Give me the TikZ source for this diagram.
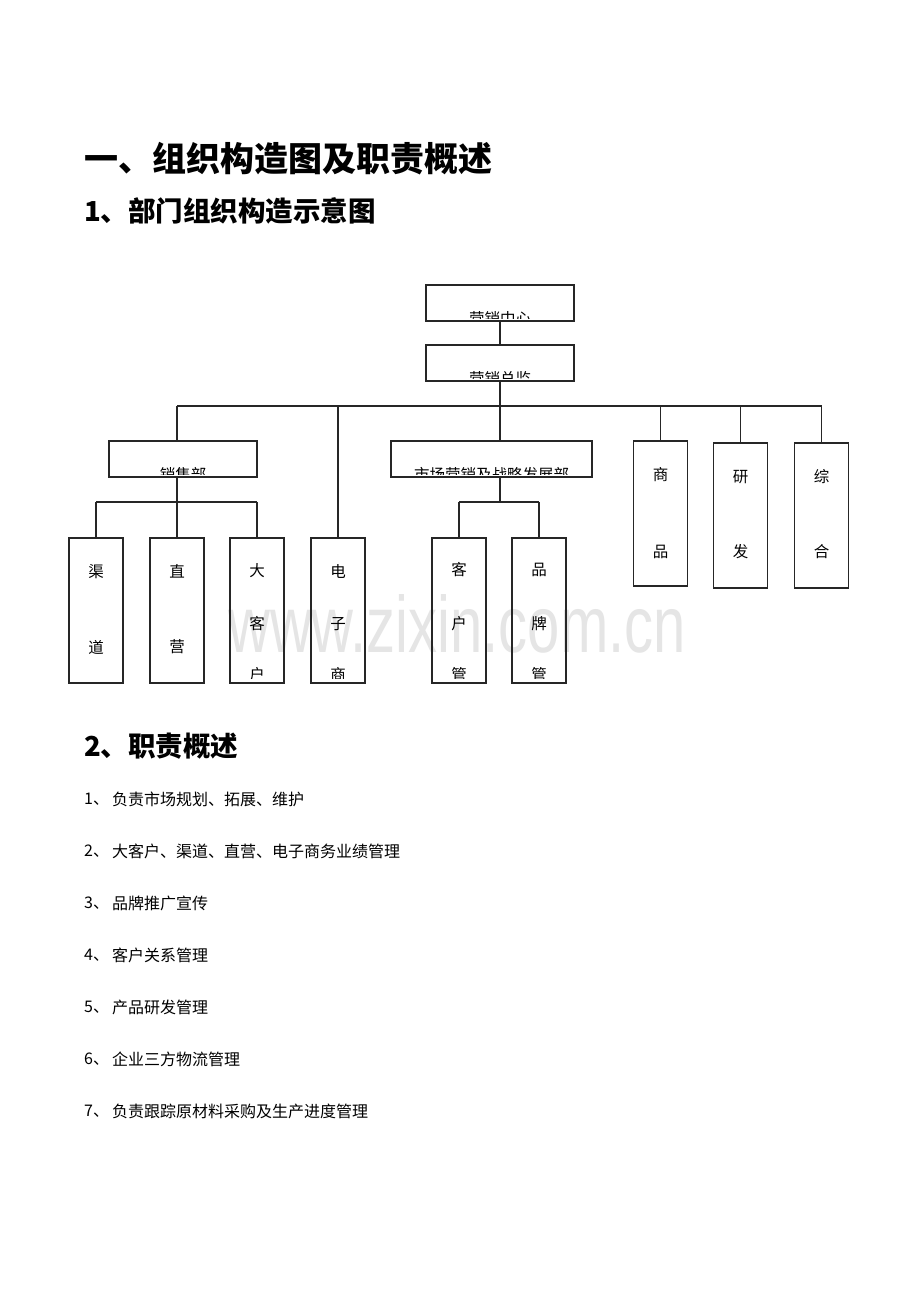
\documentclass[tikz,border=0pt]{standalone}
\usepackage{fontspec}
\newfontfamily\cjk{Noto Sans CJK SC}
\newfontfamily\wmfont{Liberation Sans}
\begin{document}
\begin{tikzpicture}[x=1pt,y=-1pt,
  box/.style={draw=black!85, line width=1.1pt, inner sep=0pt},
  conn/.style={draw=black!85, line width=1.1pt},
  bt/.style={font=\cjk\fontsize{15.5}{15.5}\selectfont, inner sep=0pt},
  lt/.style={font=\cjk\fontsize{16}{16}\selectfont, inner sep=0pt, anchor=west},
  h1/.style={font=\cjk\bfseries\fontsize{34}{34}\selectfont, inner sep=0pt, anchor=west},
  h2/.style={font=\cjk\bfseries\fontsize{27.5}{27.5}\selectfont, inner sep=0pt, anchor=west},
  wbox/.style={box, minimum width=148pt, minimum height=36pt},
  tbox/.style={box, minimum width=54pt, minimum height=145pt}]
\useasboundingbox (0,0) rectangle (920,1302);
\fill[white] (0,0) rectangle (920,1302);

% watermark
\node[font=\wmfont\fontsize{80}{80}\selectfont, text=black!10, xscale=0.725, anchor=base, inner sep=0pt] (wm) at (457,652) {www.zixin.com.cn};

% headings
\node[h1] (title) at (84,159) {一、组织构造图及职责概述};
\node[h2] (sub1) at (84,211) {1、部门组织构造示意图};
\node[h2] (sub2) at (84,746) {2、职责概述};

% top boxes
\node[wbox] (zx) at (500,303) {};
\node[wbox] (zj) at (500,363) {};
\node[box, minimum width=148pt, minimum height=36pt] (xs) at (183,459) {};
\node[box, minimum width=201pt, minimum height=36pt] (ms) at (491.5,459) {};

\begin{scope}\clip (zx.north west) rectangle ([yshift=3.5pt]zx.south east);
\node[bt] (zxt) at (500,318.5) {营销中心};\end{scope}
\begin{scope}\clip (zj.north west) rectangle ([yshift=3.5pt]zj.south east);
\node[bt] (zjt) at (500,378.5) {营销总监};\end{scope}
\begin{scope}\clip (xs.north west) rectangle ([yshift=3.5pt]xs.south east);
\node[bt] (xst) at (183,475) {销售部};\end{scope}
\begin{scope}\clip (ms.north west) rectangle ([yshift=3.5pt]ms.south east);
\node[bt] (mst) at (491.5,475) {市场营销及战略发展部};\end{scope}

% right tall boxes
\node[tbox] (sp) at (660.5,513.5) {};
\node[tbox] (yf) at (740.5,515.5) {};
\node[tbox] (zh) at (821.5,515.5) {};
\node[bt] (sp1) at (660.5,475) {商};
\node[bt] (sp2) at (660.5,552) {品};
\node[bt] (yf1) at (740.5,477) {研};
\node[bt] (yf2) at (740.5,552) {发};
\node[bt] (zh1) at (821.5,477) {综};
\node[bt] (zh2) at (821.5,552) {合};

% bottom tall boxes
\node[tbox] (qd) at (96,610.5) {};
\node[tbox] (zy) at (177,610.5) {};
\node[tbox] (dk) at (257,610.5) {};
\node[tbox] (ds) at (338,610.5) {};
\node[tbox] (kh) at (459,610.5) {};
\node[tbox] (pp) at (539,610.5) {};

\node[bt] (qd1) at (96,571.5) {渠};
\node[bt] (qd2) at (96,647) {道};
\node[bt] (zy1) at (177,571) {直};
\node[bt] (zy2) at (177,647) {营};
\node[bt] (dk1) at (257,571) {大};
\node[bt] (dk2) at (257,624) {客};
\begin{scope}\clip (dk.north west) rectangle ([yshift=5.5pt]dk.south east);
\node[bt] (dk3) at (257,675) {户};\end{scope}
\node[bt] (ds1) at (338,571) {电};
\node[bt] (ds2) at (338,624) {子};
\begin{scope}\clip (ds.north west) rectangle ([yshift=5.5pt]ds.south east);
\node[bt] (ds3) at (338,675) {商};\end{scope}
\node[bt] (kh1) at (459,570) {客};
\node[bt] (kh2) at (459,624) {户};
\begin{scope}\clip (kh.north west) rectangle ([yshift=5.5pt]kh.south east);
\node[bt] (kh3) at (459,675) {管};\end{scope}
\node[bt] (pp1) at (539,570) {品};
\node[bt] (pp2) at (539,624) {牌};
\begin{scope}\clip (pp.north west) rectangle ([yshift=5.5pt]pp.south east);
\node[bt] (pp3) at (539,675) {管};\end{scope}

% connectors
\coordinate (busL) at (177,406);
\coordinate (busR) at (821.5,406);
\coordinate (sbL) at (96,502);
\coordinate (sbR) at (257,502);
\coordinate (mbL) at (459,502);
\coordinate (mbR) at (539,502);
\draw[conn] (zx.south) -- (zj.north);
\draw[conn] (zj.south) -- (zj.south |- busL);
\draw[conn] (busL) -- (busR);
\draw[conn] (busL) -- (busL |- xs.north);
\draw[conn] (ds.north) -- (ds.north |- busL);
\draw[conn] (zj.south |- ms.north) -- (zj.south |- busL);
\draw[conn] (sp.north) -- (sp.north |- busL);
\draw[conn] (yf.north) -- (yf.north |- busL);
\draw[conn] (zh.north) -- (zh.north |- busL);
% sales sub-tree
\draw[conn] (busL |- xs.south) -- (busL |- sbL);
\draw[conn] (sbL) -- (sbR);
\draw[conn] (qd.north) -- (qd.north |- sbL);
\draw[conn] (zy.north) -- (zy.north |- sbL);
\draw[conn] (dk.north) -- (dk.north |- sbL);
% marketing sub-tree
\draw[conn] (zj.south |- ms.south) -- (zj.south |- mbL);
\draw[conn] (mbL) -- (mbR);
\draw[conn] (kh.north) -- (kh.north |- mbL);
\draw[conn] (pp.north) -- (pp.north |- mbL);

% duty list
\node[lt] (n1) at (84,799) {1、};
\node[lt] (t1) at (112,799) {负责市场规划、拓展、维护};
\node[lt] (n2) at (84,851) {2、};
\node[lt] (t2) at (112,851) {大客户、渠道、直营、电子商务业绩管理};
\node[lt] (n3) at (84,903) {3、};
\node[lt] (t3) at (112,903) {品牌推广宣传};
\node[lt] (n4) at (84,955) {4、};
\node[lt] (t4) at (112,955) {客户关系管理};
\node[lt] (n5) at (84,1007) {5、};
\node[lt] (t5) at (112,1007) {产品研发管理};
\node[lt] (n6) at (84,1059) {6、};
\node[lt] (t6) at (112,1059) {企业三方物流管理};
\node[lt] (n7) at (84,1111) {7、};
\node[lt] (t7) at (112,1111) {负责跟踪原材料采购及生产进度管理};
\end{tikzpicture}
\end{document}
